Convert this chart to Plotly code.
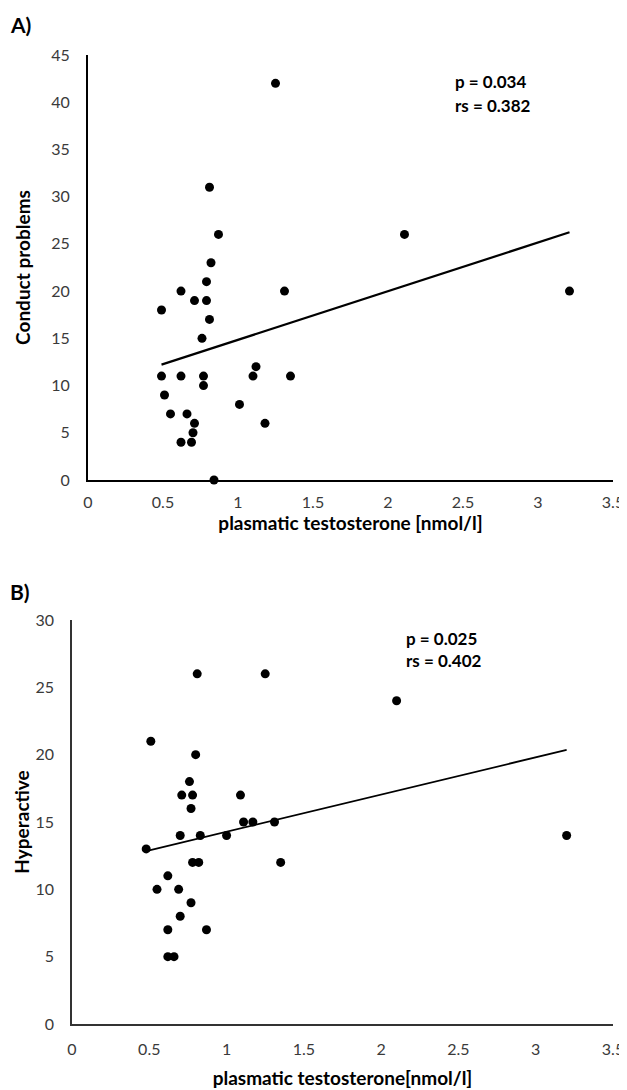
import numpy as np
import plotly.graph_objects as go

# Panel A: Conduct problems vs plasmatic testosterone
xA = [0.49, 0.62, 0.71, 0.79, 0.79, 0.82, 0.81, 0.76, 0.49, 0.62, 0.77, 0.77, 0.51, 0.55,
      0.66, 0.71, 0.70, 0.62, 0.69, 0.84, 1.01, 1.10, 1.12, 1.18, 1.31, 1.35, 1.25, 0.81,
      0.87, 2.11, 3.21]
yA = [18, 20, 19, 19, 21, 23, 17, 15, 11, 11, 11, 10, 9, 7,
      7, 6, 5, 4, 4, 0, 8, 11, 12, 6, 20, 11, 42, 31,
      26, 26, 20]

# Panel B: Hyperactive vs plasmatic testosterone
xB = [0.81, 1.25, 0.51, 0.80, 0.76, 0.71, 0.78, 1.09, 0.77, 0.48, 0.70, 0.83, 1.00, 1.11,
      1.17, 1.31, 0.78, 0.82, 1.35, 0.62, 0.55, 0.69, 0.77, 0.70, 0.62, 0.87, 0.62, 0.66,
      2.10, 3.20]
yB = [26, 26, 21, 20, 18, 17, 17, 17, 16, 13, 14, 14, 14, 15,
      15, 15, 12, 12, 12, 11, 10, 10, 9, 8, 7, 7, 5, 5,
      24, 14]

xticks = [0, 0.5, 1, 1.5, 2, 2.5, 3, 3.5]
xticklabels = ["0", "0.5", "1", "1.5", "2", "2.5", "3", "3.5"]
statsA = ["p = 0.034", "rs = 0.382"]
statsB = ["p = 0.025", "rs = 0.402"]

FONT = "Lato"
OFF = 8  # default page body margin
W, H = 627 - OFF, 1090 - OFF


def fx(px):
    return (px - OFF) / W


def fy(py):
    return 1 - (py - OFF) / H


def trend(x, y):
    m, b = np.polyfit(x, y, 1)
    xs = np.array([min(x), max(x)])
    return xs, m * xs + b


fig = go.Figure()

fig.add_trace(go.Scatter(x=xA, y=yA, mode="markers", xaxis="x", yaxis="y",
                         marker=dict(color="black", size=9), cliponaxis=False,
                         showlegend=False))
tx, ty = trend(xA, yA)
fig.add_trace(go.Scatter(x=tx, y=ty, mode="lines", xaxis="x", yaxis="y",
                         line=dict(color="black", width=2.2), showlegend=False))

fig.add_trace(go.Scatter(x=xB, y=yB, mode="markers", xaxis="x2", yaxis="y2",
                         marker=dict(color="black", size=9), cliponaxis=False,
                         showlegend=False))
tx, ty = trend(xB, yB)
fig.add_trace(go.Scatter(x=tx, y=ty, mode="lines", xaxis="x2", yaxis="y2",
                         line=dict(color="black", width=1.8), showlegend=False))

tickfont = dict(family=FONT, size=16, color="#3a3a3a")
titlefont = dict(family=FONT, size=19, color="black", weight="bold")

common_x = dict(range=[0, 3.5], tickvals=xticks, ticktext=xticklabels, showgrid=False,
                zeroline=False, showline=True, ticks="outside",
                tickcolor="rgba(0,0,0,0)", tickfont=tickfont, fixedrange=True,
                automargin=False)
common_y = dict(dtick=5, showgrid=False, zeroline=False, showline=True, ticks="outside",
                ticklen=13, tickcolor="rgba(0,0,0,0)", tickfont=tickfont,
                automargin=False, fixedrange=True)

fig.update_layout(
    width=W, height=H, margin=dict(l=0, r=0, t=0, b=0, autoexpand=False),
    paper_bgcolor="white", plot_bgcolor="white",
    xaxis=dict(domain=[fx(88), fx(613)], anchor="y", linecolor="black", linewidth=2.2,
               ticklen=7,
               title=dict(text="plasmatic testosterone [nmol/l]", font=titlefont, standoff=3),
               **common_x),
    yaxis=dict(domain=[fy(480), fy(55)], anchor="x", range=[0, 45],
               linecolor="black", linewidth=2.2,
               title=dict(text="Conduct problems", font=titlefont, standoff=15),
               **common_y),
    xaxis2=dict(domain=[fx(72), fx(613)], anchor="y2", linecolor="#333333", linewidth=1.6,
                ticklen=10,
                title=dict(text="plasmatic testosterone[nmol/l]", font=titlefont, standoff=15),
                **common_x),
    yaxis2=dict(domain=[fy(1024), fy(620)], anchor="x2", range=[0, 30],
                linecolor="#333333", linewidth=1.6,
                title=dict(text="Hyperactive", font=titlefont, standoff=1),
                **common_y),
)

ann_font = dict(family=FONT, size=17, color="black", weight="bold")
fig.add_annotation(text=statsA[0], x=2.43, y=42.2, xref="x", yref="y", xanchor="left",
                   yanchor="middle", showarrow=False, font=ann_font)
fig.add_annotation(text=statsA[1], x=2.43, y=39.7, xref="x", yref="y", xanchor="left",
                   yanchor="middle", showarrow=False, font=ann_font)
fig.add_annotation(text=statsB[0], x=2.15, y=28.6, xref="x2", yref="y2", xanchor="left",
                   yanchor="middle", showarrow=False, font=ann_font)
fig.add_annotation(text=statsB[1], x=2.15, y=27.0, xref="x2", yref="y2", xanchor="left",
                   yanchor="middle", showarrow=False, font=ann_font)

panel_font = dict(family=FONT, size=21, color="black", weight="bold")
fig.add_annotation(text="A)", x=fx(8), y=fy(25), xref="paper", yref="paper",
                   xanchor="left", yanchor="middle", showarrow=False, font=panel_font)
fig.add_annotation(text="B)", x=fx(8), y=fy(591), xref="paper", yref="paper",
                   xanchor="left", yanchor="middle", showarrow=False, font=panel_font)

fig.write_html("out.html")
